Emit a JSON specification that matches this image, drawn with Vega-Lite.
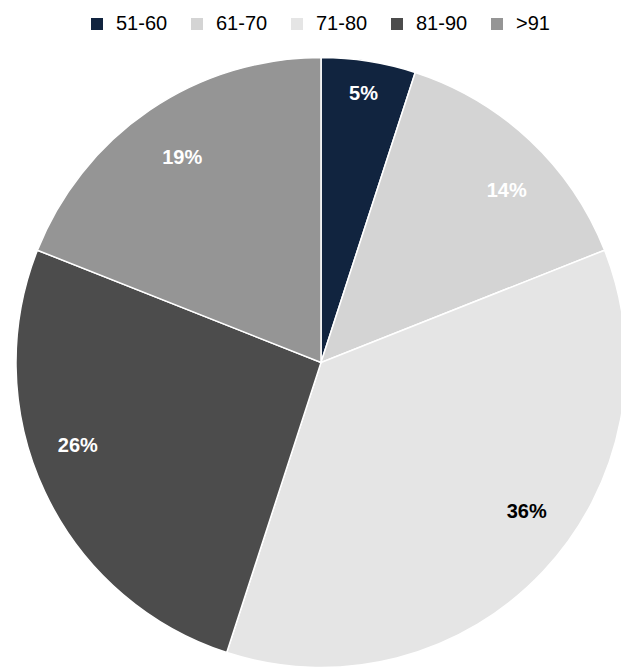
{
  "$schema": "https://vega.github.io/schema/vega-lite/v6.json",
  "width": 600,
  "height": 613,
  "autosize": {"type": "none"},
  "padding": {"left": 21, "top": 56, "right": 0, "bottom": 0},
  "background": "white",
  "data": {
    "values": [
      {"age": "51-60", "value": 5, "label": "5%"},
      {"age": "61-70", "value": 14, "label": "14%"},
      {"age": "71-80", "value": 36, "label": "36%"},
      {"age": "81-90", "value": 26, "label": "26%"},
      {"age": ">91", "value": 19, "label": "19%"}
    ]
  },
  "config": {"view": {"stroke": null}},
  "layer": [
    {
      "mark": {"type": "arc", "radius": 305, "stroke": "white", "strokeWidth": 1.5},
      "encoding": {
        "theta": {"field": "value", "type": "quantitative", "stack": true},
        "order": {"field": "age", "type": "nominal"},
        "color": {
          "field": "age",
          "type": "nominal",
          "scale": {
            "domain": ["51-60", "61-70", "71-80", "81-90", ">91"],
            "range": ["#11243f", "#d4d4d4", "#e5e5e5", "#4c4c4c", "#959595"]
          },
          "legend": {
            "orient": "none",
            "legendX": 66,
            "legendY": -42,
            "direction": "horizontal",
            "title": null,
            "symbolType": "square",
            "symbolSize": 144,
            "symbolStrokeWidth": 0,
            "labelFontSize": 20,
            "labelFont": "Liberation Sans",
            "labelColor": "#000000",
            "labelOffset": 9,
            "columnPadding": 19
          }
        }
      }
    },
    {
      "mark": {"type": "text", "radius": 272, "font": "Liberation Sans", "fontSize": 20, "fontWeight": "bold", "fill": "white"},
      "encoding": {
        "theta": {"field": "value", "type": "quantitative", "stack": true},
        "order": {"field": "age", "type": "nominal"},
        "detail": {"field": "age", "type": "nominal"},
        "text": {"condition": {"test": "datum.age === '51-60'", "field": "label", "type": "nominal"}, "value": ""}
      }
    },
    {
      "mark": {"type": "text", "radius": 253, "thetaOffset": 0.07, "font": "Liberation Sans", "fontSize": 20, "fontWeight": "bold", "fill": "white"},
      "encoding": {
        "theta": {"field": "value", "type": "quantitative", "stack": true},
        "order": {"field": "age", "type": "nominal"},
        "detail": {"field": "age", "type": "nominal"},
        "text": {"condition": {"test": "datum.age === '61-70'", "field": "label", "type": "nominal"}, "value": ""}
      }
    },
    {
      "mark": {"type": "text", "radius": 254, "thetaOffset": -0.127, "font": "Liberation Sans", "fontSize": 20, "fontWeight": "bold", "fill": "black"},
      "encoding": {
        "theta": {"field": "value", "type": "quantitative", "stack": true},
        "order": {"field": "age", "type": "nominal"},
        "detail": {"field": "age", "type": "nominal"},
        "text": {"condition": {"test": "datum.age === '71-80'", "field": "label", "type": "nominal"}, "value": ""}
      }
    },
    {
      "mark": {"type": "text", "radius": 257, "thetaOffset": 0.11, "font": "Liberation Sans", "fontSize": 20, "fontWeight": "bold", "fill": "white"},
      "encoding": {
        "theta": {"field": "value", "type": "quantitative", "stack": true},
        "order": {"field": "age", "type": "nominal"},
        "detail": {"field": "age", "type": "nominal"},
        "text": {"condition": {"test": "datum.age === '81-90'", "field": "label", "type": "nominal"}, "value": ""}
      }
    },
    {
      "mark": {"type": "text", "radius": 247, "font": "Liberation Sans", "fontSize": 20, "fontWeight": "bold", "fill": "white"},
      "encoding": {
        "theta": {"field": "value", "type": "quantitative", "stack": true},
        "order": {"field": "age", "type": "nominal"},
        "detail": {"field": "age", "type": "nominal"},
        "text": {"condition": {"test": "datum.age === '>91'", "field": "label", "type": "nominal"}, "value": ""}
      }
    }
  ]
}
